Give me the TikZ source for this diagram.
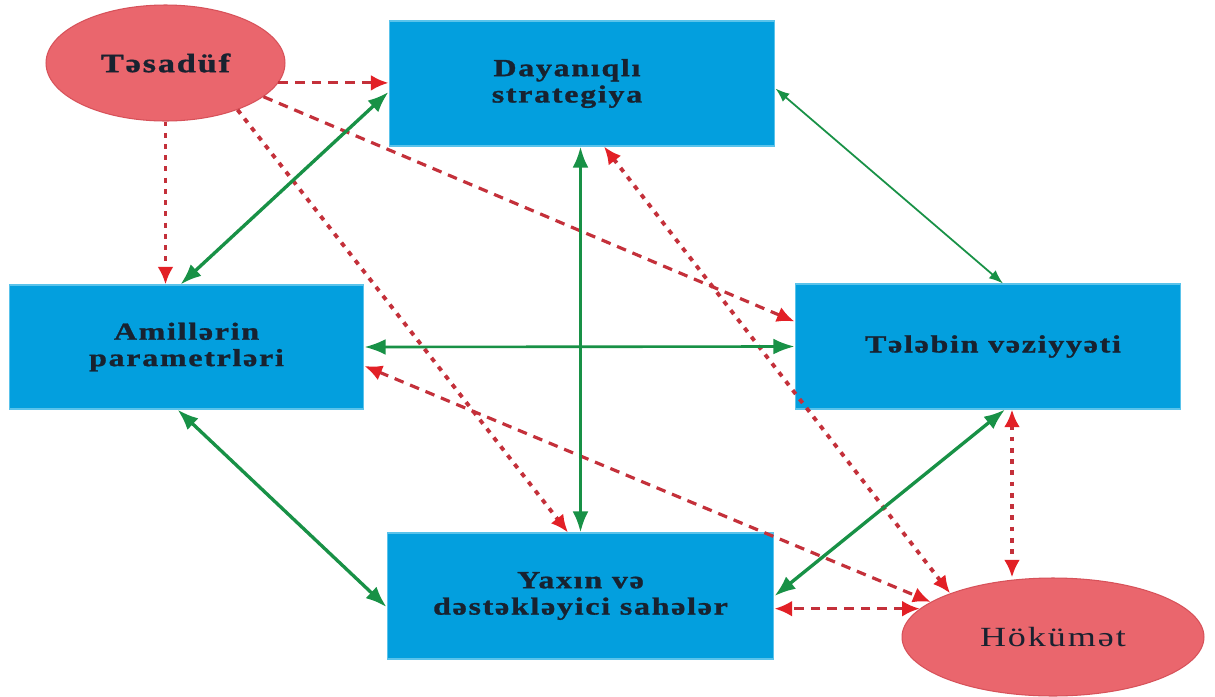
\documentclass[tikz,border=0pt]{standalone}
\usepackage{fontspec}
\setmainfont{Liberation Serif}
\newfontfamily\labelfont[FakeStretch=1.3,LetterSpace=7,BoldFeatures={FakeBold=1.2}]{Liberation Serif}
\usetikzlibrary{arrows.meta,shapes.geometric}

\definecolor{boxblue}{RGB}{3,159,222}
\definecolor{boxedge}{RGB}{90,195,235}
\definecolor{ovalfill}{RGB}{234,102,109}
\definecolor{ovaledge}{RGB}{215,82,90}
\definecolor{linkgreen}{RGB}{24,145,70}
\definecolor{linkred}{RGB}{196,48,58}
\definecolor{tipred}{RGB}{226,32,38}
\definecolor{ink}{RGB}{24,34,48}

\tikzset{
  factor/.style={rectangle, fill=boxblue, draw=boxedge, line width=0.6pt,
    minimum width=7.72cm, minimum height=2.5cm, inner sep=0pt, align=center,
    text=ink, font=\labelfont\bfseries\fontsize{14}{15}\selectfont},
  oval/.style={ellipse, fill=ovalfill, draw=ovaledge, line width=0.6pt,
    inner sep=0pt, text=ink},
  glink/.style={draw=linkgreen, line width=1.9pt,
    {Latex[length=12pt,width=9pt]}-{Latex[length=12pt,width=9pt]}},
  gthin/.style={draw=linkgreen, line width=1pt,
    {Latex[length=8pt,width=6pt]}-{Latex[length=8pt,width=6pt]}},
  rdot/.style={draw=linkred, line width=2.2pt, dash pattern=on 2.8pt off 3.6pt},
  rdash/.style={draw=linkred, line width=1.8pt, dash pattern=on 5.5pt off 4pt},
  rone/.style={-{Latex[length=10pt,width=9pt,color=tipred]}},
  rtwo/.style={{Latex[length=10pt,width=9pt,color=tipred]}-{Latex[length=10pt,width=9pt,color=tipred]}}
}

\begin{document}
\begin{tikzpicture}[x=0.02cm, y=-0.02cm]
  \fill[white] (0,0) rectangle (1215,697);
  \useasboundingbox (0,0) rectangle (1215,697);

  % the four factor boxes
  \node[factor] (D) at (582,83.5) {Dayanıqlı\hspace*{0.6cm}\\strategiya\hspace*{0.6cm}};
  \node[factor, minimum width=7.1cm, minimum height=2.48cm] (A) at (186.5,347) {Amillərin\\parametrləri};
  \node[factor] (T) at (988,346.5) {\hspace*{0.2cm}Tələbin vəziyyəti};
  \node[factor, minimum width=7.74cm, minimum height=2.52cm] (Y) at (580.5,596) {Yaxın və\\dəstəkləyici sahələr};

  % the two outside influences
  \node[oval, minimum width=4.78cm, minimum height=2.32cm,
        font=\labelfont\bfseries\fontsize{15}{17}\selectfont] (tas) at (165.5,63) {Təsadüf};
  \node[oval, minimum width=6.04cm, minimum height=2.36cm,
        font=\labelfont\fontsize{15.8}{18}\selectfont] (hok) at (1053,637) {Hökümət};

  % chance acting on the factors
  \draw[rdot, rone] (tas.south) -- (tas.south |- A.north);
  \draw[rdash, rone] (tas.-10) -- (tas.-10 -| D.west);
  \draw[rdash, rone] (tas.-19) -- ([yshift=0.5cm]T.west);
  \draw[rdot, rone] (tas.-33) -- ([xshift=-0.25cm]Y.north);

  % government links
  \draw[rdot, rtwo] ([xshift=0.44cm]D.south) -- (hok.157);
  \coordinate (tg) at ([xshift=0.48cm]T.south);
  \draw[rdot, rtwo] (tg) -- (tg |- hok.north);
  \draw[rdash, rtwo] ([yshift=-0.38cm]A.east) -- (hok.164);
  \draw[rdash, rtwo] (hok.168) -- (hok.168 -| Y.east);

  % mutual links between the factors
  \draw[glink] ([xshift=-0.12cm]A.north) -- ([yshift=-0.17cm]D.west);
  \draw[glink] (Y.north) -- (Y.north |- D.south);
  \draw[glink, line width=1.5pt] (A.east) -- (T.west);
  \draw[gthin] ([yshift=-0.1cm]D.east) -- ([xshift=0.3cm]T.north);
  \draw[glink] ([xshift=-0.18cm]A.south) -- ([yshift=-0.22cm]Y.west);
  \draw[glink] ([xshift=0.34cm]T.south) -- (Y.east);
\end{tikzpicture}
\end{document}
